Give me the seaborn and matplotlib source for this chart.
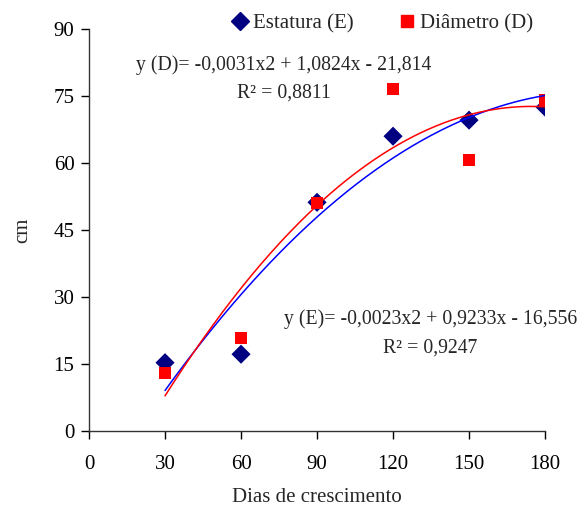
import numpy as np
import pandas as pd
import matplotlib
matplotlib.use("Agg")
import matplotlib.pyplot as plt
import seaborn as sns
from matplotlib.lines import Line2D

# values
dias = [30, 60, 90, 120, 150, 180]
estatura = [15.3, 17.2, 51.2, 66.0, 69.6, 72.5]
diametro = [13.0, 20.8, 51.0, 76.5, 60.6, 74.2]

# trendline coefficients as printed on the chart (a*x^2 + b*x + c)
coef_e = [-0.0023, 0.9233, -16.556]
coef_d = [-0.0031, 1.0824, -21.814]

eq_e = "y (E)= -0,0023x2 + 0,9233x - 16,556\nR² = 0,9247"
eq_d = "y (D)= -0,0031x2 + 1,0824x - 21,814\nR² = 0,8811"

x_ticks = [0, 30, 60, 90, 120, 150, 180]
y_ticks = [0, 15, 30, 45, 60, 75, 90]

sns.set_style("ticks")
plt.rcParams["font.family"] = ["Liberation Serif", "DejaVu Serif"]

pts = pd.DataFrame({
    "dias": dias * 2,
    "valor": estatura + diametro,
    "serie": ["Estatura (E)"] * len(dias) + ["Diâmetro (D)"] * len(dias),
})

xs = np.linspace(min(dias), max(dias), 200)
curves = pd.DataFrame({
    "dias": np.concatenate([xs, xs]),
    "valor": np.concatenate([np.polyval(coef_e, xs), np.polyval(coef_d, xs)]),
    "serie": ["E"] * len(xs) + ["D"] * len(xs),
})

fig = plt.figure(figsize=(5.83, 5.17), dpi=100)
ax = fig.add_axes([0.1527, 0.1663, 0.7822, 0.7776])

sns.scatterplot(data=pts[pts.serie == "Estatura (E)"], x="dias", y="valor",
                marker="D", s=95, color="#000080", edgecolor="none", ax=ax, zorder=3)
sns.scatterplot(data=pts[pts.serie == "Diâmetro (D)"], x="dias", y="valor",
                marker="s", s=75, color="#FF0000", edgecolor="none", ax=ax, zorder=3)
sns.lineplot(data=curves, x="dias", y="valor", hue="serie",
             palette={"E": "#0000FF", "D": "#FF0000"}, linewidth=1.1,
             legend=False, ax=ax, zorder=4)

ax.set_xlim(0, 180)
ax.set_ylim(0, 90)
ax.set_xticks(x_ticks)
ax.set_yticks(y_ticks)
ax.tick_params(labelsize=15, length=6, width=1, colors="black")
ax.tick_params(axis="x", pad=11.5)
ax.tick_params(axis="y", pad=4.5)
for s in ["left", "bottom"]:
    ax.spines[s].set_color("#333333")
    ax.spines[s].set_linewidth(1)
sns.despine(ax=ax)

ax.set_xlabel("Dias de crescimento", fontsize=15, labelpad=10)
ax.set_ylabel("cm", fontsize=15, labelpad=15)

ax.text(77.0, 78.8, eq_d, fontsize=14.2, ha="center", va="center",
        multialignment="center", linespacing=1.65)
ax.text(134.8, 21.8, eq_e, fontsize=14.2, ha="center", va="center",
        multialignment="center", linespacing=1.65)

handles = [
    Line2D([], [], marker="D", color="#000080", linestyle="none", markersize=9),
    Line2D([], [], marker="s", color="#FF0000", linestyle="none", markersize=8),
]
fig.legend(handles, ["Estatura (E)", "Diâmetro (D)"], loc="center",
           bbox_to_anchor=(0.654, 0.954), ncol=2, frameon=False, fontsize=15,
           handletextpad=0.1, columnspacing=2.07, handlelength=1.0)

fig.savefig("out.png", dpi=100)
